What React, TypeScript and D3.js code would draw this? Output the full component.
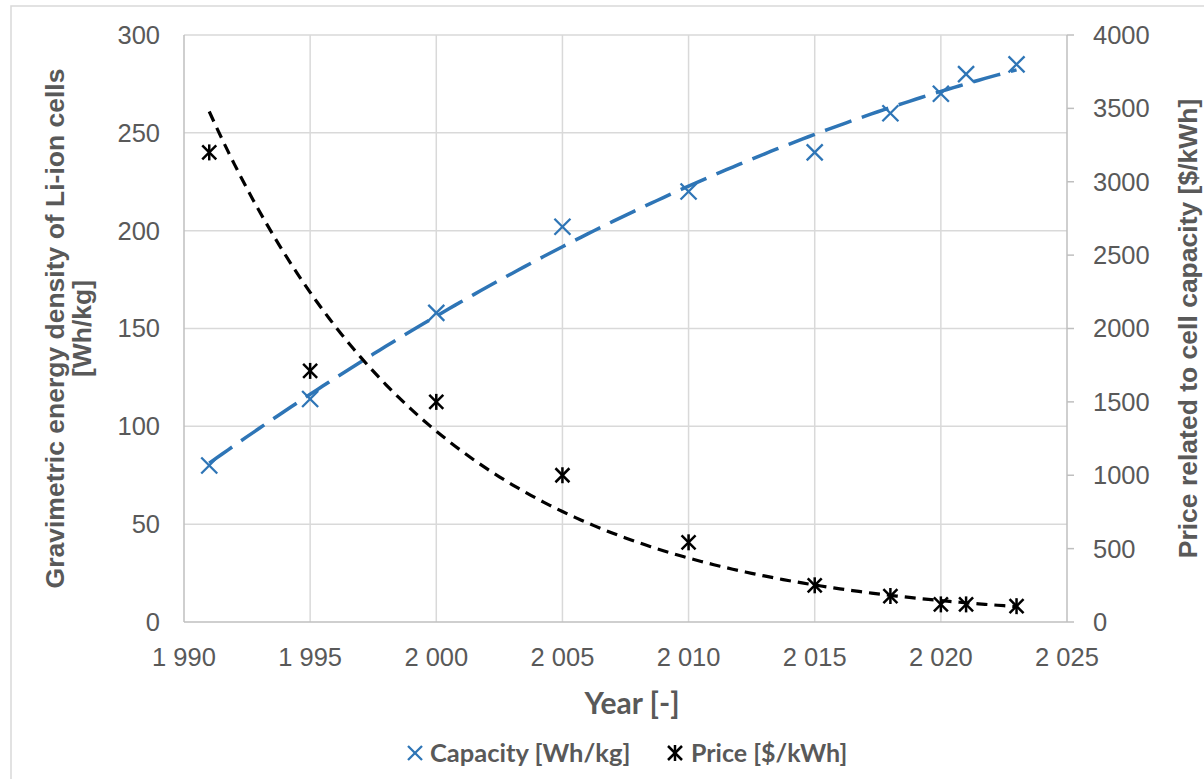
import React from "react";
import * as d3 from "d3";

const years = [1991, 1995, 2000, 2005, 2010, 2015, 2018, 2020, 2021, 2023];
const capacity = [80, 114, 158, 202, 220, 240, 260, 270, 280, 285];
const price = [3200, 1711, 1500, 1000, 543, 250, 177, 120, 120, 108];
const xTicks = [1990, 1995, 2000, 2005, 2010, 2015, 2020, 2025];
const leftTicks = [0, 50, 100, 150, 200, 250, 300];
const rightTicks = [0, 500, 1000, 1500, 2000, 2500, 3000, 3500, 4000];

const W = 1204, H = 779;
const PL = 184, PR = 1067, PT = 35, PB = 622;
const BLUE = "#2E75B6";
const GRID = "#D9D9D9";
const AXIS = "#BFBFBF";
const TXT = "#595959";
const ARIAL = "'Liberation Sans', Arial, sans-serif";
const CAL = "Lato, 'Open Sans', sans-serif";

const locale = d3.formatLocale({ decimal: ".", thousands: " ", grouping: [3], currency: ["$", ""] });
const fmtYear = locale.format(",");

// least squares quadratic fit (Excel polynomial trendline, order 2)
function polyFit2(xs: number[], ys: number[]) {
  const n = xs.length;
  let s0 = n, s1 = 0, s2 = 0, s3 = 0, s4 = 0, t0 = 0, t1 = 0, t2 = 0;
  for (let i = 0; i < n; i++) {
    const x = xs[i], y = ys[i];
    s1 += x; s2 += x * x; s3 += x * x * x; s4 += x * x * x * x;
    t0 += y; t1 += x * y; t2 += x * x * y;
  }
  const M = [[s0, s1, s2, t0], [s1, s2, s3, t1], [s2, s3, s4, t2]];
  for (let i = 0; i < 3; i++) {
    for (let j = i + 1; j < 3; j++) {
      const f = M[j][i] / M[i][i];
      for (let k = i; k < 4; k++) M[j][k] -= f * M[i][k];
    }
  }
  const c = [0, 0, 0];
  for (let i = 2; i >= 0; i--) {
    let s = M[i][3];
    for (let k = i + 1; k < 3; k++) s -= M[i][k] * c[k];
    c[i] = s / M[i][i];
  }
  return (x: number) => c[0] + c[1] * x + c[2] * x * x;
}

// least squares exponential fit (Excel exponential trendline)
function expFit(xs: number[], ys: number[]) {
  const ly = ys.map((v) => Math.log(v));
  const mx = d3.mean(xs)!, my = d3.mean(ly)!;
  let sxy = 0, sxx = 0;
  xs.forEach((x, i) => { sxy += (x - mx) * (ly[i] - my); sxx += (x - mx) * (x - mx); });
  const k = sxy / sxx;
  const b = my - k * mx;
  return (x: number) => Math.exp(b + k * x);
}

export default function App() {
  const x = d3.scaleLinear().domain([1990, 2025]).range([PL, PR]);
  const yL = d3.scaleLinear().domain([0, 300]).range([PB, PT]);
  const yR = d3.scaleLinear().domain([0, 4000]).range([PB, PT]);

  const ts = years.map((y) => y - years[0]);
  const capFn = polyFit2(ts, capacity);
  const priceFn = expFit(ts, price);
  const samples = d3.range(0, 32.001, 0.25);
  const capLine = d3.line<number>().x((t) => x(years[0] + t)).y((t) => yL(capFn(t)))(samples)!;
  const priceLine = d3.line<number>().x((t) => x(years[0] + t)).y((t) => yR(priceFn(t)))(samples)!;

  const xMark = (cx: number, cy: number, key: string, s = 8) => (
    <g key={key} stroke={BLUE} strokeWidth={2.3}>
      <line x1={cx - s} y1={cy - s} x2={cx + s} y2={cy + s} />
      <line x1={cx - s} y1={cy + s} x2={cx + s} y2={cy - s} />
    </g>
  );
  const star = (cx: number, cy: number, key: string, s = 7) => (
    <g key={key} stroke="#000" strokeWidth={2.5}>
      <line x1={cx - s} y1={cy - s} x2={cx + s} y2={cy + s} />
      <line x1={cx - s} y1={cy + s} x2={cx + s} y2={cy - s} />
      <line x1={cx} y1={cy - s - 1} x2={cx} y2={cy + s + 1} />
    </g>
  );

  const FS = 25.5;
  return (
    <svg width={W} height={H} style={{ position: "absolute", left: 0, top: 0, background: "#fff" }}>
      <rect x={11} y={6} width={1200} height={790} fill="#fff" stroke={GRID} strokeWidth={1.5} />
      {/* gridlines */}
      {leftTicks.slice(1).map((t) => (
        <line key={"gy" + t} x1={PL} x2={PR} y1={yL(t)} y2={yL(t)} stroke={GRID} strokeWidth={1.5} />
      ))}
      {xTicks.slice(1, -1).map((t) => (
        <line key={"gx" + t} x1={x(t)} x2={x(t)} y1={PT} y2={PB} stroke={GRID} strokeWidth={1.5} />
      ))}
      {/* axes */}
      <line x1={PL} x2={PL} y1={PT} y2={PB} stroke={AXIS} strokeWidth={1.5} />
      <line x1={PL} x2={PR} y1={PB} y2={PB} stroke={AXIS} strokeWidth={1.5} />
      <line x1={PR} x2={PR} y1={PT} y2={PB} stroke={AXIS} strokeWidth={1.5} />
      {rightTicks.map((t) => (
        <line key={"rt" + t} x1={PR} x2={PR + 7} y1={yR(t)} y2={yR(t)} stroke={AXIS} strokeWidth={1.5} />
      ))}
      {/* tick labels */}
      {leftTicks.map((t) => (
        <text key={"ly" + t} x={160} y={yL(t)} dy="0.35em" textAnchor="end" fontFamily={ARIAL} fontSize={FS} fill={TXT}>{t}</text>
      ))}
      {rightTicks.map((t) => (
        <text key={"ry" + t} x={1093} y={yR(t)} dy="0.35em" textAnchor="start" fontFamily={ARIAL} fontSize={FS} fill={TXT}>{t}</text>
      ))}
      {xTicks.map((t) => (
        <text key={"xl" + t} x={x(t)} y={657} dy="0.35em" textAnchor="middle" fontFamily={ARIAL} fontSize={FS} fill={TXT}>{fmtYear(t)}</text>
      ))}
      {/* trendlines */}
      <path d={capLine} fill="none" stroke={BLUE} strokeWidth={3.5} strokeDasharray="28 11" />
      <path d={priceLine} fill="none" stroke="#000" strokeWidth={3.2} strokeDasharray="11 7" />
      {/* markers */}
      {years.map((yr, i) => xMark(x(yr), yL(capacity[i]), "c" + i))}
      {years.map((yr, i) => star(x(yr), yR(price[i]), "p" + i))}
      {/* axis titles */}
      <text transform={`translate(55,${(PT + PB) / 2}) rotate(-90)`} dy="0.35em" textAnchor="middle" fontFamily={ARIAL} fontWeight="bold" fontSize={26.5} fill={TXT}>Gravimetric energy density of Li-ion cells</text>
      <text transform={`translate(82,${(PT + PB) / 2}) rotate(-90)`} dy="0.35em" textAnchor="middle" fontFamily={ARIAL} fontWeight="bold" fontSize={26.5} fill={TXT}>[Wh/kg]</text>
      <text transform={`translate(1188,${(PT + PB) / 2}) rotate(-90)`} dy="0.35em" textAnchor="middle" fontFamily={ARIAL} fontWeight="bold" fontSize={26.5} fill={TXT}>Price related to cell capacity [$/kWh]</text>
      <text x={632} y={703} dy="0.35em" textAnchor="middle" fontFamily={CAL} fontWeight="bold" fontSize={30} fill={TXT}>Year [-]</text>
      {/* legend */}
      {xMark(415, 753, "lg1", 7)}
      <text x={430} y={753} dy="0.35em" fontFamily={CAL} fontWeight="bold" fontSize={25.5} fill={TXT}>Capacity [Wh/kg]</text>
      {star(675, 753, "lg2", 7)}
      <text x={691} y={753} dy="0.35em" fontFamily={CAL} fontWeight="bold" fontSize={25} fill={TXT}>Price [$/kWh]</text>
    </svg>
  );
}
